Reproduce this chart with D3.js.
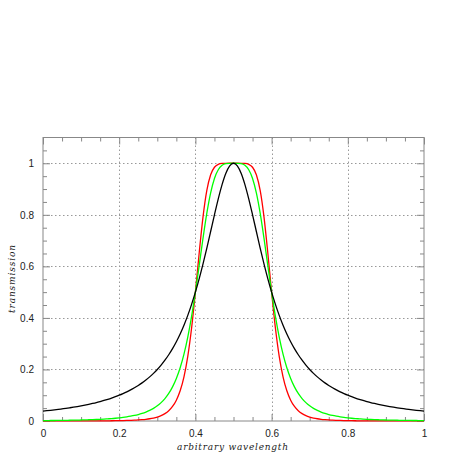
<!DOCTYPE html>
<html><head><meta charset="utf-8">
<script src="https://cdn.jsdelivr.net/npm/d3@7"></script>
<style>body{margin:0;background:#fff}</style>
</head><body>
<script>
const xTicks = [0, 0.2, 0.4, 0.6, 0.8, 1];
const xTickLabels = ["0", "0.2", "0.4", "0.6", "0.8", "1"];
const yTicks = [0, 0.2, 0.4, 0.6, 0.8, 1];
const yTickLabels = ["0", "0.2", "0.4", "0.6", "0.8", "1"];
const xMinor = [0.05,0.1,0.15,0.25,0.3,0.35,0.45,0.5,0.55,0.65,0.7,0.75,0.85,0.9,0.95];
const yMinor = [0.05,0.1,0.15,0.25,0.3,0.35,0.45,0.5,0.55,0.65,0.7,0.75,0.85,0.9,0.95,1.05];
const xTitle = "arbitrary wavelength";
const yTitle = "transmission";

const wavelength = [0,0.01,0.02,0.03,0.04,0.05,0.06,0.07,0.08,0.09,0.1,0.11,0.12,0.13,0.14,0.15,0.16,0.17,0.18,0.19,0.2,0.21,0.22,0.23,0.24,0.25,0.26,0.27,0.28,0.29,0.3,0.31,0.32,0.33,0.34,0.35,0.36,0.37,0.38,0.39,0.4,0.41,0.42,0.43,0.44,0.45,0.46,0.47,0.48,0.49,0.5,0.51,0.52,0.53,0.54,0.55,0.56,0.57,0.58,0.59,0.6,0.61,0.62,0.63,0.64,0.65,0.66,0.67,0.68,0.69,0.7,0.71,0.72,0.73,0.74,0.75,0.76,0.77,0.78,0.79,0.8,0.81,0.82,0.83,0.84,0.85,0.86,0.87,0.88,0.89,0.9,0.91,0.92,0.93,0.94,0.95,0.96,0.97,0.98,0.99,1];

const blackSeries = [.0385,.0400,.0416,.0433,.0451,.0471,.0491,.0513,.0536,.0561,
.0588,.0617,.0648,.0681,.0716,.0755,.0796,.0841,.0890,.0943,
.1000,.1063,.1131,.1206,.1289,.1379,.1479,.1590,.1712,.1848,
.2000,.2169,.2358,.2571,.2809,.3077,.3378,.3717,.4098,.4525,
.5000,.5525,.6098,.6711,.7353,.8000,.8621,.9174,.9615,.9901,
1.000,
.9901,.9615,.9174,.8621,.8000,.7353,.6711,.6098,.5525,.5000,
.4525,.4098,.3717,.3378,.3077,.2809,.2571,.2358,.2169,.2000,
.1848,.1712,.1590,.1479,.1379,.1289,.1206,.1131,.1063,.1000,
.0943,.0890,.0841,.0796,.0755,.0716,.0681,.0648,.0617,.0588,
.0561,.0536,.0513,.0491,.0471,.0451,.0433,.0416,.0400,.0385];

const greenSeries = [.0016,.0017,.0019,.0020,.0022,.0024,.0027,.0029,.0032,.0035,
.0039,.0043,.0048,.0053,.0059,.0066,.0074,.0084,.0094,.0107,
.0122,.0139,.0160,.0185,.0214,.0250,.0293,.0345,.0409,.0489,
.0588,.0713,.0870,.1069,.1324,.1649,.2065,.2593,.3254,.4058,
.5000,.6038,.7094,.8064,.8853,.9412,.9750,.9920,.9984,.9999,
1.000,
.9999,.9984,.9920,.9750,.9412,.8853,.8064,.7094,.6038,.5000,
.4058,.3254,.2593,.2065,.1649,.1324,.1069,.0870,.0713,.0588,
.0489,.0409,.0345,.0293,.0250,.0214,.0185,.0160,.0139,.0122,
.0107,.0094,.0084,.0074,.0066,.0059,.0053,.0048,.0043,.0039,
.0035,.0032,.0029,.0027,.0024,.0022,.0020,.0019,.0017,.0016];

const redSeries = [.0001,.0001,.0001,.0001,.0001,.0001,.0001,.0002,.0002,.0002,
.0002,.0003,.0003,.0004,.0005,.0005,.0006,.0008,.0009,.0011,
.0014,.0017,.0021,.0026,.0032,.0041,.0052,.0067,.0087,.0115,
.0154,.0208,.0286,.0398,.0563,.0807,.1172,.1716,.2509,.3608,
.5000,.6530,.7923,.8947,.9554,.9846,.9959,.9993,.9999,1.0000,
1.000,
1.0000,.9999,.9993,.9959,.9846,.9554,.8947,.7923,.6530,.5000,
.3608,.2509,.1716,.1172,.0807,.0563,.0398,.0286,.0208,.0154,
.0115,.0087,.0067,.0052,.0041,.0032,.0026,.0021,.0017,.0014,
.0011,.0009,.0008,.0006,.0005,.0005,.0004,.0003,.0003,.0002,
.0002,.0002,.0002,.0001,.0001,.0001,.0001,.0001,.0001,.0001,.0001];

const seriesList = [
  {name: "order6", values: redSeries, color: "#ff0000"},
  {name: "order4", values: greenSeries, color: "#00ff00"},
  {name: "order2", values: blackSeries, color: "#000000"}
];

const W = 463, H = 463;
const L = 43, R = 424, T = 137.5, B = 421;
const svg = d3.select("body").append("svg").attr("width", W).attr("height", H);
const x = d3.scaleLinear().domain([0, 1]).range([L, R]);
const y = d3.scaleLinear().domain([0, 1.1]).range([B, T]);

// grid
const grid = svg.append("g").attr("stroke", "#999").attr("stroke-width", 1).attr("stroke-dasharray", "1.5,2.5");
grid.selectAll(".gx").data(xTicks.slice(1, -1)).enter().append("line")
  .attr("x1", d => Math.round(x(d)) + 0.5).attr("x2", d => Math.round(x(d)) + 0.5)
  .attr("y1", T).attr("y2", B);
grid.selectAll(".gy").data(yTicks.slice(1)).enter().append("line")
  .attr("y1", d => Math.round(y(d)) + 0.5).attr("y2", d => Math.round(y(d)) + 0.5)
  .attr("x1", L).attr("x2", R);

// axes with inward ticks
const axCol = "#888";
const labelFont = "Liberation Sans, Arial, sans-serif";
function styleAxis(g) {
  g.select(".domain").remove();
  g.selectAll(".tick line").attr("stroke", axCol);
}
svg.append("g").attr("transform", `translate(0,${B})`)
  .call(d3.axisBottom(x).tickValues(xTicks).tickSize(-7).tickFormat((d, i) => xTickLabels[i]).tickPadding(9))
  .call(styleAxis)
  .call(g => g.selectAll("text").attr("font-family", labelFont).attr("font-size", 10).attr("fill", "#222"));
svg.append("g").attr("transform", `translate(0,${B})`)
  .call(d3.axisBottom(x).tickValues(xMinor).tickSize(-4).tickFormat(""))
  .call(styleAxis);
svg.append("g").attr("transform", `translate(0,${T})`)
  .call(d3.axisTop(x).tickValues(xTicks).tickSize(-7).tickFormat(""))
  .call(styleAxis);
svg.append("g").attr("transform", `translate(0,${T})`)
  .call(d3.axisTop(x).tickValues(xMinor).tickSize(-4).tickFormat(""))
  .call(styleAxis);
svg.append("g").attr("transform", `translate(${L},0)`)
  .call(d3.axisLeft(y).tickValues(yTicks).tickSize(-7).tickFormat((d, i) => yTickLabels[i]).tickPadding(9))
  .call(styleAxis)
  .call(g => g.selectAll("text").attr("font-family", labelFont).attr("font-size", 10).attr("fill", "#222"));
svg.append("g").attr("transform", `translate(${L},0)`)
  .call(d3.axisLeft(y).tickValues(yMinor).tickSize(-4).tickFormat(""))
  .call(styleAxis);
svg.append("g").attr("transform", `translate(${R},0)`)
  .call(d3.axisRight(y).tickValues(yTicks).tickSize(-7).tickFormat(""))
  .call(styleAxis);
svg.append("g").attr("transform", `translate(${R},0)`)
  .call(d3.axisRight(y).tickValues(yMinor).tickSize(-4).tickFormat(""))
  .call(styleAxis);

// frame
svg.append("rect").attr("x", L).attr("y", T).attr("width", R - L).attr("height", B - T)
  .attr("fill", "none").attr("stroke", axCol).attr("stroke-width", 1);

// curves
const line = d3.line().x((d, i) => x(wavelength[i])).y(d => y(d)).curve(d3.curveMonotoneX);
svg.append("g").selectAll("path").data(seriesList).enter().append("path")
  .attr("d", d => line(d.values))
  .attr("fill", "none").attr("stroke", d => d.color).attr("stroke-width", 1.3);

// titles
svg.append("text").attr("x", 232.5).attr("y", 449.5).attr("text-anchor", "middle")
  .attr("font-family", "DejaVu Serif, serif").attr("font-style", "italic").attr("font-size", 9)
  .attr("textLength", 111).attr("lengthAdjust", "spacing").attr("fill", "#222").text(xTitle);
svg.append("text").attr("transform", `translate(15,279) rotate(-90)`).attr("text-anchor", "middle")
  .attr("font-family", "DejaVu Serif, serif").attr("font-style", "italic").attr("font-size", 9)
  .attr("textLength", 68).attr("lengthAdjust", "spacing").attr("fill", "#222").text(yTitle);
</script>
</body></html>
